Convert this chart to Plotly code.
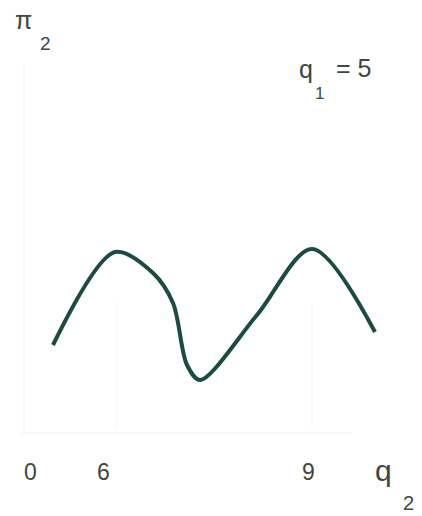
import plotly.graph_objects as go

# Profit of firm 2 as a function of its own quantity q2 (schematic units), with q1 = 5
q2_pos = [31, 93, 131, 151, 165, 178, 235, 290, 353]
pi2_val = [88, 181, 160, 130, 68, 53, 118, 184, 101]

# Axis tick labels along q2 (schematic positions)
tick_pos = [8, 81, 286]
tick_text = ["0", "6", "9"]

# Peak guide positions
guide_pos = [95, 290]

curve_color = "#1d4a41"
text_color = "#3d4744"
faint = "#f6f6f6"
font_family = "Liberation Sans, Arial, sans-serif"

fig = go.Figure()

# Faint axes
fig.add_trace(go.Scatter(x=[0, 330], y=[0, 0], mode="lines",
                         line=dict(color=faint, width=1.5), hoverinfo="skip", showlegend=False))
fig.add_trace(go.Scatter(x=[2, 2], y=[0, 370], mode="lines",
                         line=dict(color="#f8f8f8", width=1.5), hoverinfo="skip", showlegend=False))
for g in guide_pos:
    fig.add_trace(go.Scatter(x=[g, g], y=[5, 130], mode="lines",
                             line=dict(color="#f9f9f9", width=1.5), hoverinfo="skip", showlegend=False))

# Profit curve
fig.add_trace(go.Scatter(x=q2_pos, y=pi2_val, mode="lines",
                         line=dict(color=curve_color, width=4, shape="spline", smoothing=0.9),
                         hoverinfo="skip", showlegend=False))

annotations = []
for xv, tt in zip(tick_pos, tick_text):
    annotations.append(dict(x=xv, y=-39, text=tt, showarrow=False,
                            font=dict(size=23, color=text_color, family=font_family)))

labels = [
    (1, 413, "π", 25),
    (23, 390, "2", 19),
    (284, 364, "q", 25),
    (297, 340, "1", 17),
    (331, 365, "= 5", 25),
    (361, -37, "q", 30),
    (386, -70, "2", 20),
]
for xv, yv, tt, sz in labels:
    annotations.append(dict(x=xv, y=yv, text=tt, showarrow=False,
                            font=dict(size=sz, color=text_color, family=font_family)))

fig.update_layout(
    width=422, height=516,
    margin=dict(l=0, r=0, t=0, b=0),
    paper_bgcolor="white", plot_bgcolor="white",
    xaxis=dict(range=[-22, 400], visible=False, fixedrange=True),
    yaxis=dict(range=[-83, 433], visible=False, fixedrange=True),
    annotations=annotations,
)

fig.write_html("out.html")
